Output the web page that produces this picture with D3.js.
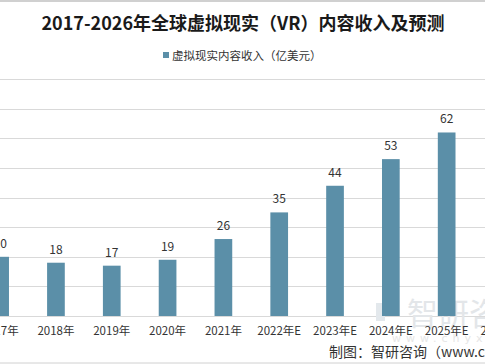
<!DOCTYPE html>
<html><head><meta charset="utf-8">
<script src="https://cdn.jsdelivr.net/npm/d3@7"></script>
<style>body{margin:0;background:#fff}svg{display:block}</style>
</head><body>
<script>
const categories = ["2017年","2018年","2019年","2020年","2021年","2022年E","2023年E","2024年E","2025年E","2026年E"];
const values = [20,18,17,19,26,35,44,53,62,71];
const yTicks = [0,10,20,30,40,50,60,70,80];
const titleText = "2017-2026年全球虚拟现实（VR）内容收入及预测";
const legendText = "虚拟现实内容收入（亿美元）";
const sourceText = "制图：智研咨询（www.chyxx.com）";

const W = 485, H = 364;
const svg = d3.select("body").append("svg").attr("width", W).attr("height", H);
const font = "'Noto Sans CJK SC','Noto Sans',sans-serif";

svg.append("rect").attr("x",0).attr("y",0).attr("width",W).attr("height",2).attr("fill","#d0d0d0");
svg.append("line").attr("x1",0).attr("x2",W).attr("y1",363).attr("y2",363).attr("stroke","#d0d0d0");

const x = d3.scaleBand().domain(categories).range([-27.7, 530.3]).paddingInner(0.683).paddingOuter(0.34);
const y = d3.scaleLinear().domain([0,80]).range([316, 79.2]);

// gridlines
svg.append("g").selectAll("line").data(yTicks).join("line")
  .attr("x1",0).attr("x2",W).attr("y1",d=>Math.round(y(d))+0.5).attr("y2",d=>Math.round(y(d))+0.5)
  .attr("stroke","#d9d9d9").attr("stroke-width",1);

// watermark
const wm = svg.append("g");
wm.append("rect").attr("x",376).attr("y",303).attr("width",9).attr("height",18).attr("fill","#e3e8ec");
wm.append("rect").attr("x",387).attr("y",303).attr("width",10).attr("height",8).attr("fill","#dfe6ec");
wm.append("text").attr("x",407).attr("y",325).attr("font-family",font).attr("font-size",31)
  .attr("fill","#e3e6e9").text("智研咨询");
wm.append("text").attr("x",392).attr("y",342).attr("font-family","'DejaVu Sans',sans-serif").attr("font-size",11)
  .attr("letter-spacing",5).attr("fill","#e6e6e6").text("www.chyxx.com");

// bars
svg.append("g").selectAll("rect").data(values).join("rect")
  .attr("x",(d,i)=>x(categories[i])).attr("width",x.bandwidth())
  .attr("y",d=>y(d)).attr("height",d=>y(0)-y(d)).attr("fill","#5b8fa8");

// value labels
svg.append("g").selectAll("text").data(values).join("text")
  .attr("x",(d,i)=>x(categories[i])+x.bandwidth()/2).attr("y",d=>y(d)-9)
  .attr("text-anchor","middle").attr("font-family",font).attr("font-size",12).attr("fill","#333")
  .text(d=>d);

// x axis
const xAxis = svg.append("g").attr("transform","translate(0,316)")
  .call(d3.axisBottom(x).tickSize(0).tickPadding(11));
xAxis.select(".domain").remove();
xAxis.selectAll("text").attr("font-family",font).attr("font-size",11.5).attr("fill","#333");

// title
svg.append("text").attr("x",243).attr("y",30).attr("text-anchor","middle")
  .attr("font-family",font).attr("font-weight","bold").attr("font-size",18).attr("fill","#1a1a1a")
  .text(titleText);

// legend
svg.append("rect").attr("x",163).attr("y",52).attr("width",6).attr("height",6).attr("fill","#5b8fa8");
svg.append("text").attr("x",172).attr("y",59.5).attr("font-family",font).attr("font-size",11.5)
  .attr("fill","#333").text(legendText);

// source
svg.append("text").attr("x",329).attr("y",357).attr("font-family",font).attr("font-size",14)
  .attr("fill","#333").text(sourceText);
</script>
</body></html>
